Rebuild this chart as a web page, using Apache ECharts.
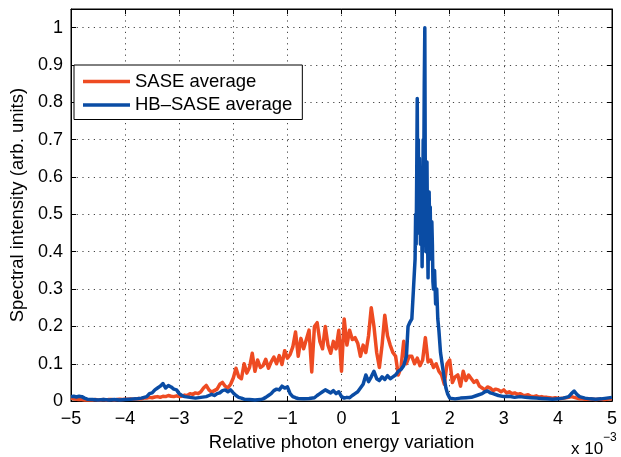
<!DOCTYPE html>
<html><head><meta charset="utf-8">
<script src="https://cdn.jsdelivr.net/npm/echarts@6.0.0/dist/echarts.min.js"></script>
<style>html,body{margin:0;padding:0;background:#fff}#c{width:621px;height:457px}</style>
</head><body><div id="c"></div>
<script>
const xTickLabels = ['\u22125','\u22124','\u22123','\u22122','\u22121','0','1','2','3','4','5'];
const yTickLabels = ['0','0.1','0.2','0.3','0.4','0.5','0.6','0.7','0.8','0.9','1'];
const seriesNames = ['SASE average', 'HB\u2013SASE average'];
const xTitle = 'Relative photon energy variation';
const yTitle = 'Spectral intensity (arb. units)';

// x in units of 1e-3
const sase = [
[-5.00,0.008],[-4.95,0.006],[-4.90,0.005],[-4.85,0.004],[-4.80,0.004],[-4.75,0.003],[-4.70,0.003],
[-4.65,0.003],[-4.60,0.003],[-4.55,0.004],[-4.50,0.003],[-4.45,0.003],[-4.40,0.004],[-4.35,0.003],
[-4.30,0.004],[-4.25,0.004],[-4.20,0.003],[-4.15,0.004],[-4.10,0.005],[-4.05,0.004],[-4.00,0.005],
[-3.95,0.005],[-3.90,0.006],[-3.85,0.005],[-3.80,0.006],[-3.75,0.007],[-3.70,0.006],[-3.65,0.008],
[-3.60,0.008],[-3.55,0.010],[-3.50,0.009],[-3.45,0.011],[-3.40,0.012],[-3.35,0.010],[-3.30,0.013],
[-3.25,0.012],[-3.20,0.015],[-3.15,0.013],[-3.10,0.012],[-3.05,0.014],[-3.00,0.012],[-2.95,0.013],
[-2.90,0.016],[-2.85,0.015],[-2.80,0.020],[-2.75,0.018],[-2.70,0.022],[-2.65,0.020],[-2.60,0.025],
[-2.55,0.035],[-2.50,0.042],[-2.45,0.030],[-2.40,0.024],[-2.35,0.028],[-2.30,0.032],[-2.25,0.045],
[-2.20,0.050],[-2.15,0.040],[-2.10,0.035],[-2.05,0.045],[-2.00,0.062],[-1.95,0.088],[-1.90,0.065],
[-1.85,0.060],[-1.80,0.100],[-1.75,0.075],[-1.70,0.090],[-1.65,0.128],[-1.60,0.080],[-1.55,0.110],
[-1.50,0.090],[-1.45,0.095],[-1.40,0.112],[-1.35,0.088],[-1.30,0.105],[-1.25,0.118],[-1.20,0.100],
[-1.15,0.122],[-1.10,0.098],[-1.05,0.135],[-1.00,0.115],[-0.95,0.125],[-0.90,0.145],[-0.85,0.185],
[-0.80,0.120],[-0.75,0.168],[-0.70,0.140],[-0.65,0.165],[-0.60,0.190],[-0.55,0.078],[-0.50,0.200],
[-0.45,0.210],[-0.40,0.160],[-0.35,0.140],[-0.30,0.200],[-0.25,0.150],[-0.20,0.128],[-0.15,0.160],
[-0.10,0.140],[-0.05,0.190],[0.00,0.080],[0.05,0.220],[0.10,0.150],[0.15,0.190],[0.20,0.165],
[0.25,0.170],[0.30,0.155],[0.35,0.120],[0.40,0.150],[0.45,0.130],[0.50,0.175],[0.55,0.250],
[0.60,0.200],[0.65,0.130],[0.70,0.090],[0.75,0.150],[0.80,0.230],[0.85,0.175],[0.90,0.150],
[0.95,0.130],[1.00,0.120],[1.05,0.070],[1.10,0.090],[1.15,0.160],[1.20,0.100],[1.25,0.120],
[1.30,0.120],[1.35,0.100],[1.40,0.115],[1.45,0.095],[1.50,0.110],[1.55,0.170],[1.60,0.105],
[1.65,0.110],[1.70,0.090],[1.75,0.100],[1.80,0.080],[1.85,0.070],[1.90,0.045],[1.95,0.100],
[2.00,0.110],[2.05,0.050],[2.10,0.065],[2.15,0.070],[2.20,0.040],[2.25,0.080],[2.30,0.055],
[2.35,0.070],[2.40,0.060],[2.45,0.050],[2.50,0.055],[2.55,0.040],[2.60,0.035],[2.65,0.030],
[2.70,0.038],[2.75,0.035],[2.80,0.028],[2.85,0.032],[2.90,0.030],[2.95,0.025],[3.00,0.030],
[3.05,0.022],[3.10,0.025],[3.15,0.020],[3.20,0.022],[3.25,0.018],[3.30,0.020],[3.35,0.016],
[3.40,0.015],[3.45,0.017],[3.50,0.013],[3.55,0.012],[3.60,0.014],[3.65,0.011],[3.70,0.012],
[3.75,0.010],[3.80,0.010],[3.85,0.009],[3.90,0.008],[3.95,0.009],[4.00,0.008],[4.05,0.007],
[4.10,0.008],[4.15,0.009],[4.20,0.010],[4.25,0.012],[4.30,0.010],[4.35,0.008],[4.40,0.006],
[4.45,0.006],[4.50,0.005],[4.55,0.005],[4.60,0.006],[4.65,0.005],[4.70,0.004],[4.75,0.005],
[4.80,0.005],[4.85,0.004],[4.90,0.005],[4.95,0.006],[5.00,0.006]
];

const hbsase = [
[-5.0,0.012],[-4.95,0.013],[-4.9,0.011],[-4.85,0.013],[-4.8,0.012],[-4.75,0.008],[-4.7,0.005],
[-4.6,0.004],[-4.5,0.003],[-4.4,0.004],[-4.3,0.003],[-4.2,0.004],[-4.1,0.003],[-4.0,0.004],
[-3.9,0.005],[-3.8,0.006],[-3.7,0.008],[-3.6,0.012],[-3.55,0.02],[-3.5,0.022],[-3.45,0.03],
[-3.4,0.035],[-3.35,0.04],[-3.3,0.047],[-3.25,0.035],[-3.2,0.042],[-3.15,0.038],[-3.1,0.032],
[-3.05,0.03],[-3.0,0.02],[-2.95,0.015],[-2.9,0.012],[-2.8,0.01],[-2.7,0.008],[-2.6,0.01],
[-2.5,0.012],[-2.45,0.015],[-2.4,0.018],[-2.35,0.015],[-2.3,0.02],[-2.25,0.022],[-2.2,0.028],
[-2.15,0.03],[-2.1,0.025],[-2.05,0.03],[-2.0,0.022],[-1.95,0.015],[-1.9,0.01],[-1.85,0.008],
[-1.8,0.005],[-1.7,0.004],[-1.6,0.003],[-1.5,0.004],[-1.45,0.006],[-1.4,0.01],[-1.35,0.015],
[-1.3,0.02],[-1.25,0.028],[-1.2,0.032],[-1.15,0.03],[-1.1,0.04],[-1.05,0.035],[-1.0,0.038],
[-0.95,0.02],[-0.9,0.012],[-0.85,0.009],[-0.8,0.007],[-0.7,0.006],[-0.6,0.007],[-0.5,0.009],
[-0.45,0.015],[-0.4,0.02],[-0.35,0.025],[-0.3,0.03],[-0.25,0.026],[-0.2,0.022],[-0.15,0.028],
[-0.1,0.02],[-0.05,0.025],[0.0,0.012],[0.05,0.008],[0.1,0.01],[0.15,0.009],[0.2,0.015],
[0.25,0.02],[0.3,0.025],[0.35,0.035],[0.4,0.045],[0.45,0.07],[0.5,0.052],[0.55,0.065],
[0.6,0.08],[0.65,0.06],[0.7,0.055],[0.75,0.065],[0.8,0.058],[0.85,0.068],[0.9,0.06],
[0.95,0.065],[1.0,0.07],[1.05,0.08],[1.1,0.085],[1.15,0.095],[1.2,0.12],[1.23,0.2],
[1.26,0.21],[1.3,0.22],[1.33,0.3],[1.36,0.38],[1.37,0.5],[1.38,0.42],[1.39,0.6],
[1.40,0.81],[1.41,0.55],[1.42,0.7],[1.43,0.45],[1.44,0.65],[1.45,0.5],[1.46,0.42],
[1.47,0.62],[1.48,0.55],[1.49,0.36],[1.50,0.5],[1.51,0.7],[1.52,0.6],[1.53,0.85],
[1.54,1.0],[1.55,0.55],[1.56,0.4],[1.57,0.6],[1.58,0.64],[1.59,0.45],[1.60,0.33],
[1.61,0.5],[1.62,0.56],[1.63,0.45],[1.64,0.52],[1.65,0.4],[1.66,0.38],[1.67,0.48],
[1.68,0.42],[1.69,0.32],[1.70,0.3],[1.72,0.35],[1.74,0.26],[1.76,0.3],[1.78,0.22],
[1.80,0.19],[1.83,0.13],[1.86,0.1],[1.9,0.06],[1.93,0.035],[1.96,0.02],[2.0,0.008],
[2.1,0.006],[2.2,0.008],[2.3,0.009],[2.4,0.01],[2.5,0.015],[2.6,0.02],[2.65,0.025],
[2.7,0.027],[2.75,0.022],[2.8,0.02],[2.9,0.015],[3.0,0.012],[3.1,0.013],[3.2,0.01],
[3.3,0.012],[3.4,0.01],[3.5,0.009],[3.6,0.008],[3.7,0.007],[3.8,0.006],[3.9,0.005],
[4.0,0.006],[4.1,0.008],[4.2,0.012],[4.25,0.02],[4.3,0.027],[4.35,0.018],[4.4,0.012],
[4.5,0.008],[4.6,0.006],[4.7,0.005],[4.8,0.006],[4.9,0.008],[5.0,0.01]
];

const FONT = 'Liberation Sans, Arial, Helvetica, sans-serif';
const RED = '#EE4B22';
const BLUE = '#0A4CA4';

const chart = echarts.init(document.getElementById('c'), null, {renderer: 'canvas'});
const gridLine = {show: true, lineStyle: {color: '#444', width: 1, type: [1.2, 4.5]}};
const hiddenLabel = {show: false};
const tickIn = {show: true, inside: true, length: 5, lineStyle: {color: '#000', width: 1}};
chart.setOption({
  animation: false,
  backgroundColor: '#fff',
  grid: {left: 71, right: 9, top: 9, bottom: 54, show: true, borderColor: '#000', borderWidth: 1, backgroundColor: 'transparent'},
  legend: {
    orient: 'vertical', left: 74, top: 65,
    data: seriesNames, icon: 'rect', itemWidth: 47, itemHeight: 3.5, itemGap: 4.5,
    padding: [7, 10, 5, 9],
    borderColor: '#000', borderWidth: 1, backgroundColor: '#fff',
    textStyle: {fontFamily: FONT, fontSize: 18.5, color: '#000', padding: [0, 0, 0, 0]},
    selectedMode: false
  },
  xAxis: [{
    type: 'value', min: -5, max: 5, interval: 1, position: 'bottom',
    name: xTitle, nameLocation: 'middle', nameGap: 27,
    nameTextStyle: {fontFamily: FONT, fontSize: 18.5, color: '#000'},
    axisLine: {show: true, onZero: false, lineStyle: {color: '#000', width: 1}},
    axisTick: tickIn,
    axisLabel: {fontFamily: FONT, fontSize: 18, color: '#000', margin: 9,
      formatter: v => xTickLabels[Math.round(v) + 5]},
    splitLine: gridLine
  }, {
    type: 'value', min: -5, max: 5, interval: 1, position: 'top',
    axisLine: {show: true, onZero: false, lineStyle: {color: '#000', width: 1}},
    axisTick: tickIn, axisLabel: hiddenLabel, splitLine: {show: false}
  }],
  yAxis: [{
    type: 'value', min: 0, max: 1.05, interval: 0.1, position: 'left',
    name: yTitle, nameLocation: 'middle', nameGap: 38,
    nameTextStyle: {fontFamily: FONT, fontSize: 18.5, color: '#000'},
    axisLine: {show: true, onZero: false, lineStyle: {color: '#000', width: 1}},
    axisTick: tickIn,
    axisLabel: {fontFamily: FONT, fontSize: 18, color: '#000', margin: 8,
      formatter: v => (v > 1.001 ? '' : yTickLabels[Math.round(v * 10)])},
    splitLine: gridLine
  }, {
    type: 'value', min: 0, max: 1.05, interval: 0.1, position: 'right',
    axisLine: {show: true, onZero: false, lineStyle: {color: '#000', width: 1}},
    axisTick: tickIn, axisLabel: hiddenLabel, splitLine: {show: false}
  }],
  series: [{
    name: seriesNames[0], type: 'line', data: sase, showSymbol: false, symbol: 'none',
    lineStyle: {color: RED, width: 3.5, join: 'round'}, itemStyle: {color: RED}, z: 2
  }, {
    name: seriesNames[1], type: 'line', data: hbsase, showSymbol: false, symbol: 'none',
    lineStyle: {color: BLUE, width: 3.5, join: 'round'}, itemStyle: {color: BLUE}, z: 3
  }],
  graphic: [{
    type: 'text', left: 571, top: 441,
    style: {text: 'x 10', font: '17px ' + FONT, fill: '#000'}
  }, {
    type: 'text', left: 603, top: 432,
    style: {text: '\u22123', font: '12px ' + FONT, fill: '#000'}
  }]
});
</script>
</body></html>
